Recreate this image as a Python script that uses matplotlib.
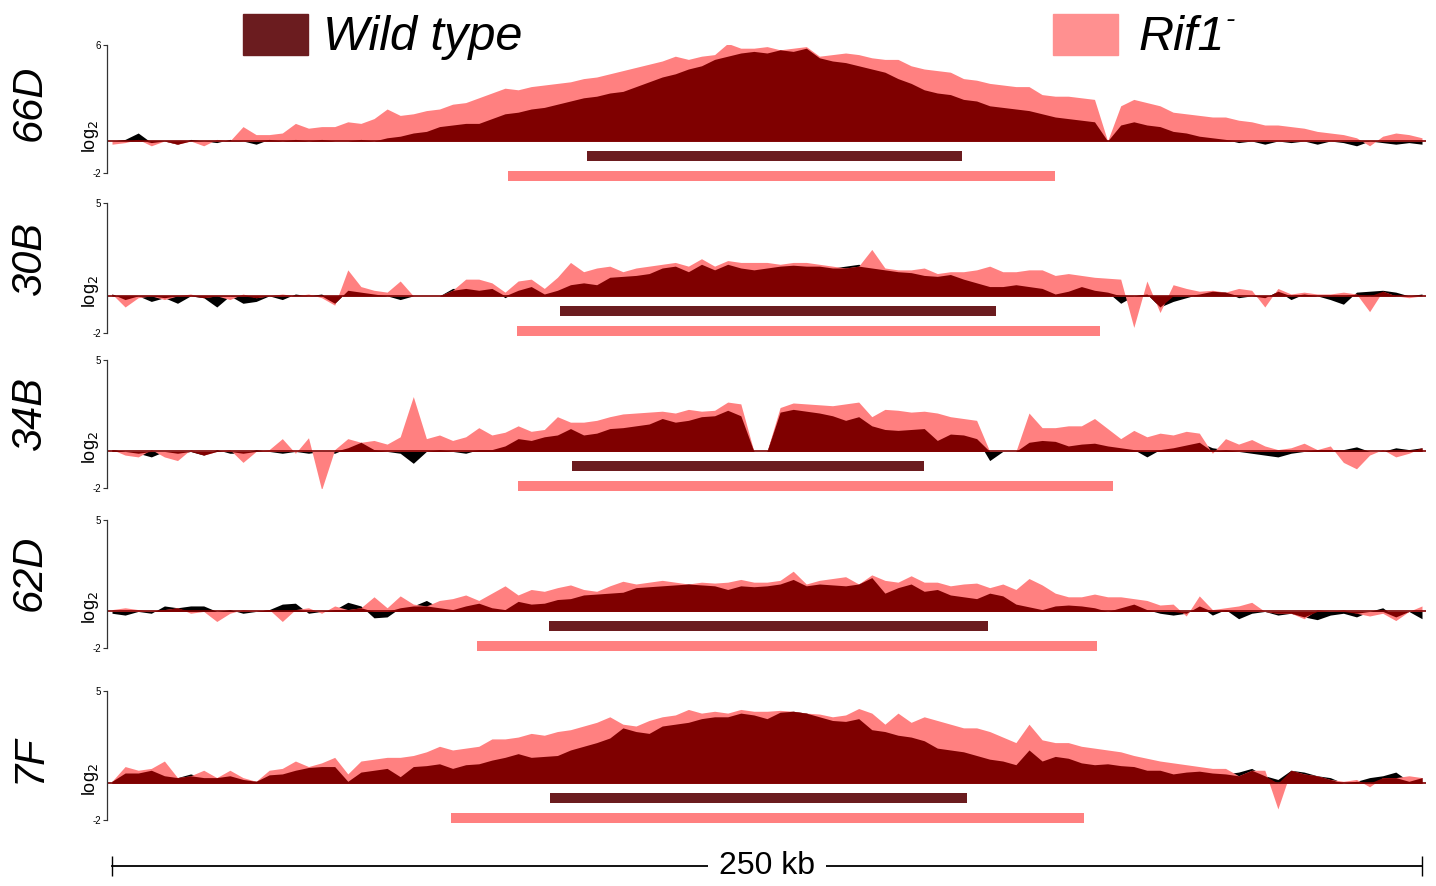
import numpy as np
import matplotlib.pyplot as plt
from matplotlib.patches import Rectangle
from matplotlib import transforms

plt.rcParams['font.family'] = ['Liberation Sans', 'DejaVu Sans']

# -----------------------------
# Data (log2 ratio, sampled every 2.5 kb over the 250 kb window)
# -----------------------------
pos_kb = np.arange(101) * 2.5

tracks = ["66D", "30B", "34B", "62D", "7F"]
y_top = [6, 5, 5, 5, 5]

wt_66D = [0.0, 0.1, 0.5, -0.1, 0.0, -0.2, 0.1, 0.0, -0.1, 0.1,
          0.0, -0.2, 0.1, 0.0, 0.1, 0.0, 0.1, 0.0, 0.0, 0.1,
          0.0, 0.2, 0.3, 0.5, 0.6, 0.9, 1.0, 1.1, 1.1, 1.4,
          1.7, 1.8, 2.0, 2.1, 2.3, 2.5, 2.7, 2.8, 3.0, 3.1,
          3.4, 3.7, 4.0, 4.2, 4.5, 4.7, 5.1, 5.3, 5.5, 5.6,
          5.5, 5.7, 5.6, 5.8, 5.2, 5.0, 4.9, 4.7, 4.5, 4.3,
          3.9, 3.6, 3.2, 3.0, 2.9, 2.6, 2.5, 2.2, 2.1, 2.0,
          1.9, 1.7, 1.5, 1.4, 1.3, 1.2, 0.0, 1.0, 1.2, 1.0,
          0.9, 0.6, 0.5, 0.3, 0.2, 0.1, -0.1, 0.0, -0.2, 0.0,
          -0.1, 0.0, -0.2, 0.0, -0.1, -0.3, 0.0, -0.1, -0.2, -0.1,
          -0.2]
rif1_66D = [-0.2, -0.1, 0.1, -0.3, 0.0, -0.2, 0.0, -0.3, 0.1, 0.0,
            0.9, 0.4, 0.4, 0.5, 1.1, 0.8, 0.9, 0.9, 1.2, 1.1,
            1.4, 2.0, 1.6, 1.7, 1.9, 2.0, 2.3, 2.4, 2.7, 3.0,
            3.3, 3.2, 3.4, 3.5, 3.6, 3.7, 3.9, 4.0, 4.2, 4.4,
            4.6, 4.8, 5.0, 5.3, 5.1, 5.3, 5.4, 6.1, 5.8, 5.8,
            5.9, 5.7, 5.8, 5.9, 5.3, 5.4, 5.5, 5.4, 5.2, 5.1,
            5.1, 4.7, 4.5, 4.4, 4.3, 3.9, 3.8, 3.6, 3.5, 3.4,
            3.4, 2.9, 2.8, 2.8, 2.7, 2.6, 0.0, 2.2, 2.6, 2.4,
            2.2, 1.8, 1.7, 1.6, 1.5, 1.5, 1.3, 1.2, 1.0, 1.0,
            0.9, 0.8, 0.6, 0.5, 0.4, 0.2, -0.3, 0.3, 0.5, 0.4,
            0.2]

wt_30B = [0.1, -0.2, 0.0, -0.3, -0.1, -0.4, 0.0, -0.1, -0.6, 0.0,
          -0.4, -0.3, 0.0, -0.2, 0.1, 0.0, 0.1, -0.4, 0.3, 0.2,
          0.1, 0.0, -0.2, 0.0, 0.0, 0.0, 0.4, 0.4, 0.3, 0.4,
          -0.1, 0.3, 0.5, 0.1, 0.3, 0.6, 0.7, 0.6, 1.0, 1.05,
          1.1, 1.2, 1.5, 1.6, 1.3, 1.7, 1.4, 1.7, 1.5, 1.4,
          1.5, 1.6, 1.65, 1.6, 1.6, 1.5, 1.6, 1.7, 1.5, 1.4,
          1.3, 1.25, 1.1, 1.05, 1.15, 0.9, 0.7, 0.5, 0.5, 0.6,
          0.5, 0.4, 0.1, 0.25, 0.5, 0.3, 0.2, -0.4, 0.0, 0.1,
          -0.6, -0.3, -0.1, 0.1, 0.25, 0.2, -0.1, 0.0, -0.1, 0.25,
          -0.2, 0.1, 0.0, -0.2, -0.45, 0.2, 0.25, 0.3, 0.2, 0.0,
          0.1]
rif1_30B = [0.1, -0.6, -0.1, 0.0, -0.2, 0.0, 0.1, -0.1, 0.0, -0.2,
            0.1, -0.1, 0.0, 0.1, 0.0, 0.1, -0.1, -0.5, 1.4, 0.5,
            0.3, 0.2, 0.8, 0.0, 0.0, 0.0, 0.3, 0.9, 0.9, 0.7,
            0.2, 0.8, 0.9, 0.4, 1.0, 1.8, 1.3, 1.5, 1.6, 1.3,
            1.5, 1.6, 1.7, 1.8, 1.6, 2.0, 1.6, 1.9, 1.8, 1.8,
            1.8, 1.7, 1.8, 1.8, 1.7, 1.6, 1.5, 1.6, 2.5, 1.5,
            1.4, 1.4, 1.5, 1.2, 1.3, 1.3, 1.4, 1.6, 1.3, 1.3,
            1.4, 1.4, 1.1, 1.2, 1.1, 1.0, 0.95, 0.9, -1.7, 0.8,
            -0.9, 0.6, 0.4, 0.25, 0.3, 0.2, 0.4, 0.3, -0.6, 0.4,
            0.1, 0.2, 0.1, 0.1, 0.2, 0.1, -0.85, 0.25, 0.0, -0.1,
            0.0]

wt_34B = [0.1, 0.0, -0.1, -0.3, 0.0, -0.1, 0.0, -0.2, 0.1, -0.1,
          -0.1, 0.1, 0.0, -0.1, 0.0, -0.1, 0.0, -0.1, 0.2, 0.5,
          0.1, 0.0, -0.1, -0.65, 0.0, 0.1, 0.0, -0.1, 0.1, 0.1,
          0.3, 0.7, 0.6, 0.8, 0.9, 1.25, 0.9, 1.0, 1.25, 1.3,
          1.4, 1.5, 1.8, 1.6, 1.7, 1.9, 1.95, 2.25, 1.95, 0.0,
          0.0, 2.15, 2.3, 2.2, 2.1, 1.95, 1.7, 1.9, 1.4, 1.2,
          1.15, 1.2, 1.25, 0.6, 0.95, 0.9, 0.7, -0.5, 0.0, 0.0,
          0.5, 0.6, 0.55, 0.3, 0.4, 0.45, 0.3, 0.2, 0.1, -0.3,
          0.1, 0.2, 0.35, 0.5, 0.2, 0.1, 0.0, -0.1, -0.2, -0.3,
          -0.1, 0.0, 0.1, 0.1, 0.1, 0.25, 0.0, 0.0, 0.2, 0.1,
          0.2]
rif1_34B = [0.1, -0.2, -0.3, 0.1, -0.3, -0.5, 0.1, -0.2, 0.0, 0.1,
            -0.6, 0.0, 0.1, 0.7, -0.1, 0.75, -2.1, 0.1, 0.7, 0.5,
            0.6, 0.4, 0.8, 3.0, 0.7, 0.9, 0.6, 0.8, 1.3, 0.9,
            1.05, 1.4, 1.1, 1.2, 1.9, 1.6, 1.6, 1.7, 1.9, 2.05,
            2.1, 2.15, 2.2, 2.1, 2.3, 2.2, 2.25, 2.7, 2.6, 0.0,
            0.0, 2.4, 2.65, 2.6, 2.55, 2.5, 2.6, 2.7, 1.9, 2.3,
            2.25, 2.15, 2.2, 2.1, 1.9, 1.8, 1.7, 0.0, 0.0, 0.0,
            2.1, 1.3, 1.3, 1.4, 1.4, 1.8, 1.25, 0.7, 1.15, 0.8,
            1.0, 0.9, 1.1, 1.0, -0.1, 0.7, 0.4, 0.65, 0.3, 0.1,
            0.2, 0.45, 0.1, 0.3, -0.6, -0.95, -0.2, 0.1, -0.3, -0.1,
            0.2]

wt_62D = [-0.1, -0.2, 0.0, -0.1, 0.3, 0.2, 0.3, 0.3, 0.0, 0.1,
          -0.1, 0.0, 0.1, 0.4, 0.45, -0.1, 0.0, 0.1, 0.5, 0.3,
          -0.35, -0.3, 0.2, 0.3, 0.6, 0.2, 0.1, 0.3, 0.45, 0.2,
          0.1, 0.55, 0.4, 0.45, 0.65, 0.7, 0.9, 0.95, 1.0, 1.05,
          1.3, 1.35, 1.4, 1.45, 1.5, 1.45, 1.4, 1.2, 1.4, 1.35,
          1.4, 1.5, 1.75, 1.4, 1.5, 1.45, 1.4, 1.5, 1.85, 1.0,
          1.3, 1.5, 1.1, 1.2, 0.9, 0.8, 0.7, 1.0, 0.85, 0.4,
          0.25, 0.1, 0.3, 0.35, 0.3, 0.2, 0.0, 0.2, 0.4, 0.1,
          -0.1, -0.2, -0.1, 0.3, -0.2, 0.1, -0.4, -0.1, 0.0, -0.2,
          -0.1, -0.3, -0.45, -0.2, -0.1, -0.3, 0.0, 0.2, -0.3, 0.0,
          -0.4]
rif1_62D = [0.1, 0.2, 0.1, 0.0, 0.1, 0.2, -0.1, 0.0, -0.55, -0.1,
            0.1, 0.0, 0.1, -0.55, 0.1, 0.2, -0.1, 0.3, 0.1, 0.2,
            0.8, 0.2, 0.85, 0.4, 0.3, 0.6, 0.7, 0.9, 0.6, 1.0,
            1.4, 0.9, 1.2, 1.1, 1.3, 1.45, 1.2, 1.1, 1.4, 1.65,
            1.5, 1.6, 1.7, 1.6, 1.5, 1.6, 1.55, 1.6, 1.75, 1.6,
            1.6, 1.7, 2.2, 1.5, 1.7, 1.8, 1.9, 1.5, 2.0, 1.7,
            1.6, 1.95, 1.6, 1.6, 1.4, 1.5, 1.55, 1.3, 1.5, 1.2,
            1.8, 1.45, 1.0, 0.8, 0.8, 0.95, 0.8, 0.8, 0.7, 0.6,
            0.35, 0.4, -0.25, 0.85, 0.1, 0.2, 0.3, 0.5, 0.0, -0.1,
            -0.1, -0.4, 0.1, 0.0, 0.1, -0.1, -0.25, -0.1, -0.5, 0.0,
            0.3]

wt_7F = [0.1, 0.55, 0.55, 0.7, 0.4, 0.3, 0.5, 0.3, 0.3, 0.4,
         0.2, 0.1, 0.45, 0.5, 0.7, 0.85, 0.9, 0.9, 0.1, 0.6,
         0.7, 0.8, 0.35, 0.9, 0.95, 1.05, 0.8, 1.0, 1.05, 1.25,
         1.4, 1.6, 1.4, 1.45, 1.5, 1.8, 2.0, 2.2, 2.45, 3.0,
         2.8, 2.7, 3.1, 3.2, 3.3, 3.5, 3.6, 3.6, 3.8, 3.7,
         3.5, 3.85, 3.9, 3.8, 3.6, 3.4, 3.35, 3.5, 2.9, 2.8,
         2.6, 2.5, 2.3, 1.9, 1.8, 1.7, 1.5, 1.3, 1.2, 1.0,
         1.8, 1.2, 1.45, 1.35, 1.1, 1.0, 1.05, 0.95, 0.9, 0.7,
         0.7, 0.5, 0.6, 0.65, 0.55, 0.5, 0.6, 0.8, 0.4, 0.2,
         0.7, 0.6, 0.4, 0.3, 0.0, 0.1, 0.3, 0.4, 0.6, 0.1,
         0.3]
rif1_7F = [0.1, 0.9, 0.7, 0.8, 1.2, 0.3, 0.4, 0.7, 0.3, 0.7,
           0.3, 0.1, 0.7, 0.8, 1.2, 0.9, 1.1, 1.4, 0.5, 1.2,
           1.3, 1.4, 1.4, 1.5, 1.7, 2.0, 1.8, 1.9, 2.0, 2.4,
           2.4, 2.5, 2.7, 2.6, 2.8, 2.9, 3.1, 3.3, 3.6, 3.2,
           3.1, 3.4, 3.6, 3.7, 4.0, 3.8, 3.9, 3.8, 4.0, 3.9,
           3.9, 3.95, 3.9, 3.8, 3.75, 3.6, 3.7, 4.05, 3.8, 3.2,
           3.8, 3.3, 3.6, 3.4, 3.2, 3.0, 3.0, 2.8, 2.5, 2.2,
           3.2, 2.35, 2.2, 2.2, 2.0, 1.9, 1.8, 1.7, 1.5, 1.35,
           1.2, 1.1, 1.0, 0.9, 0.8, 0.8, 0.4, 0.7, 0.7, -1.4,
           0.7, 0.5, 0.4, 0.2, 0.1, 0.2, -0.2, 0.3, 0.3, 0.4,
           0.3]

wt_values = [wt_66D, wt_30B, wt_34B, wt_62D, wt_7F]
rif1_values = [rif1_66D, rif1_30B, rif1_34B, rif1_62D, rif1_7F]

# early-replicating domains (kb)
wt_domain = [(90.6, 162.2), (85.5, 168.7), (87.8, 155.0), (83.4, 167.2), (83.6, 163.2)]
rif1_domain = [(75.6, 180.0), (77.3, 188.5), (77.5, 191.0), (69.7, 188.0), (64.7, 185.5)]

scale_kb = 250

# -----------------------------
# Styles / layout
# -----------------------------
WT_COL = "#6B1C1F"
RIF_COL = "#FF8080"
RIF_LEG = "#FF9090"
OVERLAP = "#7F0000"

W, H = 1436, 886
fig = plt.figure(figsize=(W / 100, H / 100), dpi=100)

panel_px = [(45, 173), (203, 333), (360, 488), (520, 648), (691, 820)]
x0_px, x1_px = 107, 1426
kb_per_px = 250 / 1310
xlim = ((x0_px - 112) * kb_per_px, (x1_px - 112) * kb_per_px)

for k, name in enumerate(tracks):
    top, bot = panel_px[k]
    ax = fig.add_axes([x0_px / W, 1 - bot / H, (x1_px - x0_px) / W, (bot - top) / H])
    wt = np.array(wt_values[k])
    rif = np.array(rif1_values[k])
    both_pos = (wt > 0) & (rif > 0)
    both_neg = (wt < 0) & (rif < 0)
    overlap = np.where(both_pos, np.minimum(wt, rif),
                       np.where(both_neg, np.maximum(wt, rif), 0.0))

    ax.fill_between(pos_kb, 0, wt, color="black", lw=0)
    ax.fill_between(pos_kb, 0, rif, color=RIF_COL, lw=0)
    ax.fill_between(pos_kb, 0, overlap, color=OVERLAP, lw=0)
    ax.axhline(0, color=OVERLAP, lw=1.2)

    ax.set_xlim(xlim)
    ax.set_ylim(-2, y_top[k])

    # domain bars below the profile
    ppu = (bot - top) / (y_top[k] + 2)
    ax.hlines(-15 / ppu, *wt_domain[k], color=WT_COL, lw=7.2, capstyle="butt", clip_on=False)
    ax.hlines(-35 / ppu, *rif1_domain[k], color=RIF_COL, lw=7.2, capstyle="butt", clip_on=False)

    for s in ["top", "right", "bottom"]:
        ax.spines[s].set_visible(False)
    ax.spines["left"].set_color("#333333")
    ax.spines["left"].set_linewidth(0.9)
    ax.set_xticks([])
    ax.set_yticks([-2, y_top[k]])
    ax.set_yticklabels(["-2", str(y_top[k])])
    ax.tick_params(axis="y", length=3, width=0.8, labelsize=7, pad=1.5, colors="#333333",
                   labelcolor="black")

    tr = transforms.blended_transform_factory(fig.transFigure, ax.transData)
    ax.text(101 / W, 4 / ppu, "log$_2$", transform=tr, rotation=90,
            ha="right", va="center", fontsize=13)
    ax.text(30 / W, 0, name, transform=tr, rotation=90, ha="center", va="bottom",
            fontsize=30, style="italic")

# legend
fig.add_artist(Rectangle((243 / W, 1 - 55 / H), 65 / W, 41 / H,
                         transform=fig.transFigure, color=WT_COL))
fig.text(323 / W, 1 - 50 / H, "Wild type", fontsize=35, style="italic", va="baseline")
fig.add_artist(Rectangle((1053 / W, 1 - 55 / H), 65 / W, 41 / H,
                         transform=fig.transFigure, color=RIF_LEG))
fig.text(1138 / W, 1 - 50 / H, "Rif1", fontsize=35, style="italic", va="baseline")
fig.text(1226 / W, 1 - 27 / H, "-", fontsize=20, style="italic", va="baseline")

# scale bar
sax = fig.add_axes([x0_px / W, 1 - 882 / H, (x1_px - x0_px) / W, 32 / H])
sax.set_xlim(xlim)
sax.set_ylim(-1, 1)
sax.plot([0, scale_kb], [0, 0], color="black", lw=1.3)
sax.vlines([0, scale_kb], -0.62, 0.62, color="black", lw=1.0)
sax.text(scale_kb / 2, 0, f"{scale_kb} kb", ha="center", va="center", fontsize=23,
         bbox=dict(facecolor="white", edgecolor="none", pad=8))
sax.axis("off")

fig.savefig("out.png", dpi=100)
